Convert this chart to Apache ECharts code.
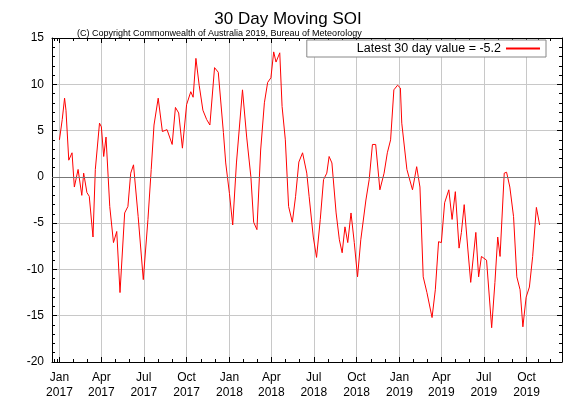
<!DOCTYPE html>
<html><head><meta charset="utf-8">
<script src="https://cdn.jsdelivr.net/npm/echarts@6/dist/echarts.min.js"></script>
<style>html,body{margin:0;padding:0;background:#fff}#c{width:576px;height:403px}</style>
</head><body><div id="c"></div>
<script>
const dates = ["2017-01-01","2017-01-07","2017-01-12","2017-01-15","2017-01-21","2017-01-28","2017-02-02","2017-02-10","2017-02-18","2017-02-22","2017-03-01","2017-03-06","2017-03-14","2017-03-19","2017-03-28","2017-04-01","2017-04-06","2017-04-11","2017-04-19","2017-04-27","2017-05-04","2017-05-11","2017-05-21","2017-05-28","2017-06-03","2017-06-09","2017-06-19","2017-06-30","2017-07-10","2017-07-17","2017-07-23","2017-08-01","2017-08-10","2017-08-20","2017-08-31","2017-09-07","2017-09-14","2017-09-22","2017-10-01","2017-10-10","2017-10-15","2017-10-21","2017-10-28","2017-11-05","2017-11-13","2017-11-20","2017-11-30","2017-12-08","2017-12-19","2017-12-24","2018-01-01","2018-01-08","2018-01-16","2018-01-29","2018-02-07","2018-02-16","2018-02-22","2018-03-01","2018-03-09","2018-03-17","2018-03-24","2018-03-31","2018-04-06","2018-04-11","2018-04-19","2018-04-24","2018-05-01","2018-05-08","2018-05-16","2018-05-23","2018-05-30","2018-06-07","2018-06-16","2018-06-21","2018-06-30","2018-07-07","2018-07-15","2018-07-22","2018-07-29","2018-08-03","2018-08-09","2018-08-18","2018-08-25","2018-08-31","2018-09-06","2018-09-12","2018-09-19","2018-09-26","2018-10-03","2018-10-10","2018-10-21","2018-10-28","2018-11-04","2018-11-11","2018-11-20","2018-11-29","2018-12-06","2018-12-13","2018-12-20","2018-12-28","2019-01-03","2019-01-06","2019-01-17","2019-01-29","2019-02-07","2019-02-14","2019-02-21","2019-03-01","2019-03-12","2019-03-19","2019-03-26","2019-04-01","2019-04-08","2019-04-17","2019-04-24","2019-05-01","2019-05-09","2019-05-14","2019-05-20","2019-05-28","2019-06-03","2019-06-14","2019-06-20","2019-06-26","2019-07-07","2019-07-18","2019-07-25","2019-07-31","2019-08-05","2019-08-14","2019-08-19","2019-08-26","2019-09-03","2019-09-10","2019-09-17","2019-09-23","2019-09-30","2019-10-07","2019-10-14","2019-10-22","2019-10-29"];
const values = [4.0,6.2,8.5,7.2,1.8,2.6,-1.1,0.8,-2.0,0.4,-1.7,-2.1,-6.5,0.8,5.8,5.4,2.2,4.3,-3.2,-7.1,-5.9,-12.5,-3.9,-3.2,0.4,1.3,-4.3,-11.1,-4.6,0.8,5.6,8.5,4.9,5.1,3.5,7.5,6.9,3.1,7.8,9.2,8.6,12.8,9.9,7.2,6.2,5.6,11.8,11.3,4.8,1.5,-1.8,-5.2,1.5,9.4,4.3,0.0,-4.9,-5.7,2.9,8.0,10.2,10.7,13.5,12.4,13.4,7.6,4.0,-3.2,-4.9,-2.1,1.6,2.6,0.4,-2.1,-6.5,-8.7,-4.6,-0.3,0.4,2.2,1.5,-3.9,-6.8,-8.2,-5.4,-7.1,-3.9,-7.1,-10.8,-6.8,-2.5,-0.3,3.5,3.5,-1.4,0.4,2.6,4.0,9.4,9.9,9.6,5.8,0.8,-1.4,1.1,-1.1,-10.8,-12.5,-15.2,-12.2,-7.0,-7.1,-2.8,-1.4,-4.6,-1.6,-7.7,-6.0,-3.0,-7.9,-11.4,-6.0,-10.8,-8.6,-9.0,-16.3,-11.4,-6.5,-8.6,0.4,0.5,-1.1,-4.3,-10.8,-12.2,-16.2,-13.0,-11.9,-8.6,-3.3,-5.2];
const yTicks = [-20,-15,-10,-5,0,5,10,15];
const latestLabel = "Latest 30 day value = -5.2";
const months = ["Jan","Feb","Mar","Apr","May","Jun","Jul","Aug","Sep","Oct","Nov","Dec"];

const xBase = {type:'time',min:'2016-12-16',max:'2019-12-16',
    minInterval:90*86400000,maxInterval:92*86400000};
const yBase = {type:'value',min:yTicks[0],max:yTicks[yTicks.length-1],interval:5};
const tickStyle = {axisLine:{show:true,onZero:false,lineStyle:{color:'#000'}},
    axisTick:{show:true,inside:true,length:5,lineStyle:{color:'#000'}}};

const chart = echarts.init(document.getElementById('c'));
chart.setOption({
  animation:false,
  title:[{text:"30 Day Moving SOI",left:'center',top:6,textStyle:{fontFamily:'Liberation Sans',fontSize:17,fontWeight:'normal',color:'#000'}},
         {text:"(C) Copyright Commonwealth of Australia 2019, Bureau of Meteorology",left:72,top:24,textStyle:{fontFamily:'Liberation Sans',fontSize:9,fontWeight:'normal',color:'#000'}}],
  legend:{right:30,top:40,itemWidth:34,itemHeight:2,icon:'rect',align:'right',itemGap:6,
    backgroundColor:'#fff',borderColor:'#888',borderWidth:1,padding:[2,6,2,50],
    textStyle:{fontFamily:'Liberation Sans',fontSize:12.5,color:'#000'}},
  grid:{left:52,right:14,top:38,bottom:41},
  xAxis:[Object.assign({},xBase,tickStyle,{
    minorTick:{show:true,splitNumber:3,length:3,lineStyle:{color:'#000'}},
    splitLine:{show:true,lineStyle:{color:'#c8c8c8',width:1}},
    axisLabel:{fontFamily:'Liberation Sans',fontSize:12,color:'#000',lineHeight:15,hideOverlap:false,
      formatter:function(v){const d=new Date(v);return months[d.getMonth()]+'\n'+d.getFullYear();}}}),
    Object.assign({},xBase,tickStyle,{position:'top',
    minorTick:{show:true,splitNumber:3,length:3,lineStyle:{color:'#000'}},
    splitLine:{show:false},axisLabel:{show:false}})],
  yAxis:[Object.assign({},yBase,tickStyle,{
    minorTick:{show:true,splitNumber:5,length:3,lineStyle:{color:'#000'}},
    splitLine:{show:true,lineStyle:{color:'#c8c8c8',width:1}},
    axisLabel:{fontFamily:'Liberation Sans',fontSize:12,color:'#000'}}),
    Object.assign({},yBase,tickStyle,{position:'right',
    minorTick:{show:true,splitNumber:5,length:3,lineStyle:{color:'#000'}},
    splitLine:{show:false},axisLabel:{show:false}})],
  series:[{name:latestLabel,type:'line',showSymbol:false,
    data:dates.map((d,i)=>[d,values[i]]),
    lineStyle:{color:'#ff0000',width:1},itemStyle:{color:'#ff0000'},
    markLine:{silent:true,symbol:'none',label:{show:false},lineStyle:{color:'#777',type:'solid',width:1},data:[{yAxis:0}]},
    z:3}]
});
</script></body></html>
